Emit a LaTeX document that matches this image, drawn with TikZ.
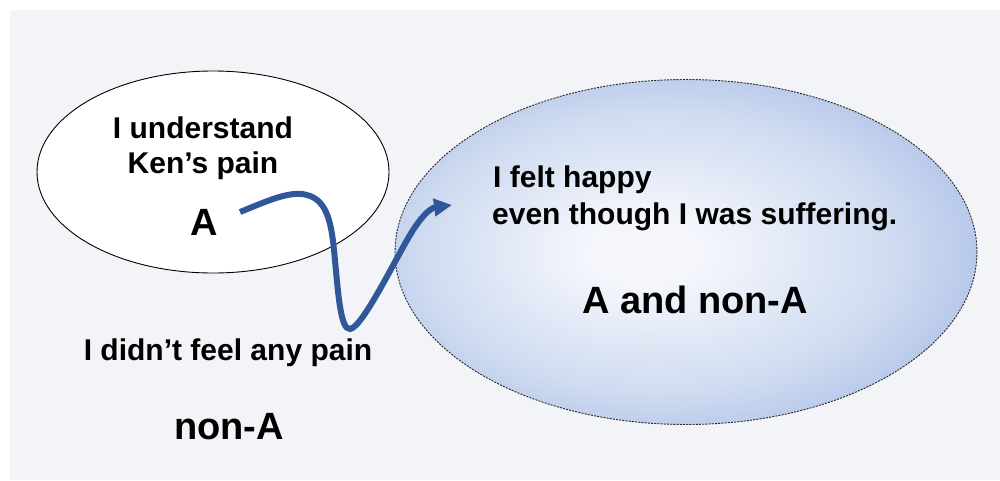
\documentclass[tikz,border=0pt]{standalone}
\usepackage{fontspec}
\setmainfont{Liberation Sans}
\usetikzlibrary{shapes.geometric,arrows.meta}
\definecolor{bgpanel}{RGB}{243,244,248}
\definecolor{arrowblue}{RGB}{48,88,152}
\definecolor{ellin}{RGB}{244,246,252}
\definecolor{ellmid}{RGB}{208,220,241}
\definecolor{ellout}{RGB}{162,183,227}
\pgfdeclareradialshading{ellshade}{\pgfpoint{-4bp}{0bp}}{color(0bp)=(ellin); color(5bp)=(ellin); color(20bp)=(ellmid); color(33bp)=(ellout); color(50bp)=(ellout)}
\begin{document}
\begin{tikzpicture}[x=1pt,y=-1pt,
  txt/.style={font=\fontsize{30}{36}\selectfont\bfseries, inner sep=0pt, text=black},
  bigtxt/.style={font=\fontsize{38}{44}\selectfont\bfseries, inner sep=0pt, text=black},
  flow/.style={draw=arrowblue, line width=6pt, -{Triangle[length=18pt,width=17pt]}},
  leftell/.style={ellipse, draw=black, line width=0.9pt, fill=white, inner sep=0pt, minimum width=352pt, minimum height=202pt},
  rightell/.style={ellipse, draw=black!85, line width=0.9pt, dash pattern=on 2pt off 1.2pt, shading=ellshade, inner sep=0pt, minimum width=582pt, minimum height=345pt}]
\useasboundingbox (0,0) rectangle (1000,480);
\fill[white] (0,0) rectangle (1000,480);
\fill[bgpanel] (10,10) rectangle (1000,480);
% ellipses
\node[leftell] (lell) at (213,172) {};
\node[rightell] (rell) at (686,252) {};
% texts in left ellipse
\node[txt, anchor=base] (t1) at (203,138) {I understand};
\node[txt, anchor=base] (t2) at (203,173) {Ken’s pain};
\node[bigtxt, anchor=base] (tA) at (204,235) {A};
% texts in right ellipse
\node[txt, anchor=base west] (t3) at (493,187) {I felt happy};
\node[txt, anchor=base west] (t4) at (492,224) {even though I was suffering.};
\node[bigtxt, anchor=base] (tAnA) at (695,313) {A and non-A};
% texts outside
\node[txt, anchor=base] (t5) at (228,360) {I didn’t feel any pain};
\node[bigtxt, anchor=base] (tnA) at (229,439) {non-A};
% arrow
\coordinate (aS) at (240,212);
\coordinate (aE) at (452,205);
\draw[flow] (aS) .. controls (265,202) and (290,190) .. (307,195)
  .. controls (326,200) and (331,220) .. (334,250)
  .. controls (338,290) and (340,330) .. (350,329)
  .. controls (362,328) and (395,260) .. (410,235)
  .. controls (420,218) and (430,208) .. (aE);
\end{tikzpicture}
\end{document}
